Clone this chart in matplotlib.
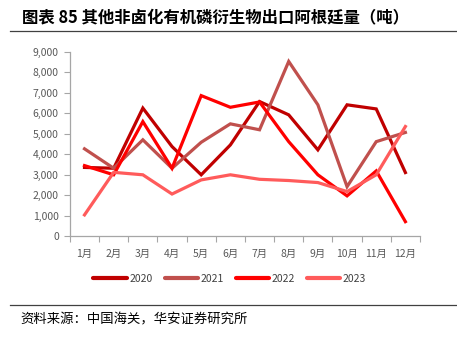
import matplotlib
matplotlib.use("Agg")
import matplotlib.pyplot as plt
from matplotlib.lines import Line2D
from matplotlib.ticker import FuncFormatter, FixedLocator

plt.rcParams['font.family'] = ['Noto Sans CJK SC', 'DejaVu Sans']

months = ['1月', '2月', '3月', '4月', '5月', '6月', '7月', '8月', '9月', '10月', '11月', '12月']
y2020 = [3350, 3310, 6250, 4370, 2990, 4450, 6570, 5920, 4210, 6410, 6210, 3100]
y2021 = [4260, 3310, 4700, 3310, 4580, 5480, 5190, 8530, 6410, 2410, 4610, 5060]
y2022 = [3440, 2990, 5590, 3310, 6860, 6290, 6550, 4610, 2990, 1960, 3180, 700]
y2023 = [1030, 3110, 2990, 2050, 2740, 2990, 2770, 2710, 2610, 2170, 2990, 5350]

series = [('2020', y2020, '#C00000'),
          ('2021', y2021, '#C0504D'),
          ('2022', y2022, '#FF0000'),
          ('2023', y2023, '#FF5B5B')]

fig = plt.figure(figsize=(4.57, 3.41), dpi=100)
ax = fig.add_axes([0.153, 0.308, 0.766, 0.540])

x = list(range(len(months)))
for name, vals, col in series:
    ax.plot(x, vals, color=col, lw=2.3, label=name, solid_joinstyle='miter')

ax.set_xlim(-0.5, len(months) - 0.5)
ax.set_ylim(0, 9000)
ax.set_yticks(range(0, 9001, 1000))
ax.yaxis.set_major_formatter(FuncFormatter(lambda v, p: f'{int(v):,}'))
ax.set_xticks(x)
ax.set_xticklabels(months)
ax.xaxis.set_minor_locator(FixedLocator([i - 0.5 for i in range(len(months) + 1)]))
ax.tick_params(axis='x', which='major', length=0, pad=9, labelsize=7.5, labelcolor='#595959')
ax.tick_params(axis='x', which='minor', length=4, color='#A6A6A6', width=0.8)
ax.tick_params(axis='y', length=4, color='#A6A6A6', width=0.8, labelsize=7.5, labelcolor='#595959', pad=4)
for s in ['top', 'right']:
    ax.spines[s].set_visible(False)
for s in ['left', 'bottom']:
    ax.spines[s].set_color('#A6A6A6')
    ax.spines[s].set_linewidth(0.9)

handles = [Line2D([0], [0], color=c, lw=3, solid_capstyle='round') for _, _, c in series]
fig.legend(handles, [n for n, _, _ in series], loc='center', bbox_to_anchor=(0.503, 0.182),
           ncol=4, frameon=False, fontsize=7.5, handlelength=3.2, handletextpad=0.25,
           columnspacing=1.15, labelcolor='#404040')

fig.text(0.048, 0.95, '图表 85 其他非卤化有机磷衍生物出口阿根廷量（吨）', fontsize=11.8,
         fontweight='bold', va='center', ha='left', color='#000000')
fig.add_artist(Line2D([0.022, 1.0], [0.909, 0.909], color='#404040', lw=0.9))
fig.add_artist(Line2D([0.022, 1.0], [0.106, 0.106], color='#404040', lw=0.9))
fig.text(0.044, 0.062, '资料来源：中国海关，华安证券研究所', fontsize=9.6, va='center', ha='left', color='#000000')

fig.savefig('out.png', dpi=100)
